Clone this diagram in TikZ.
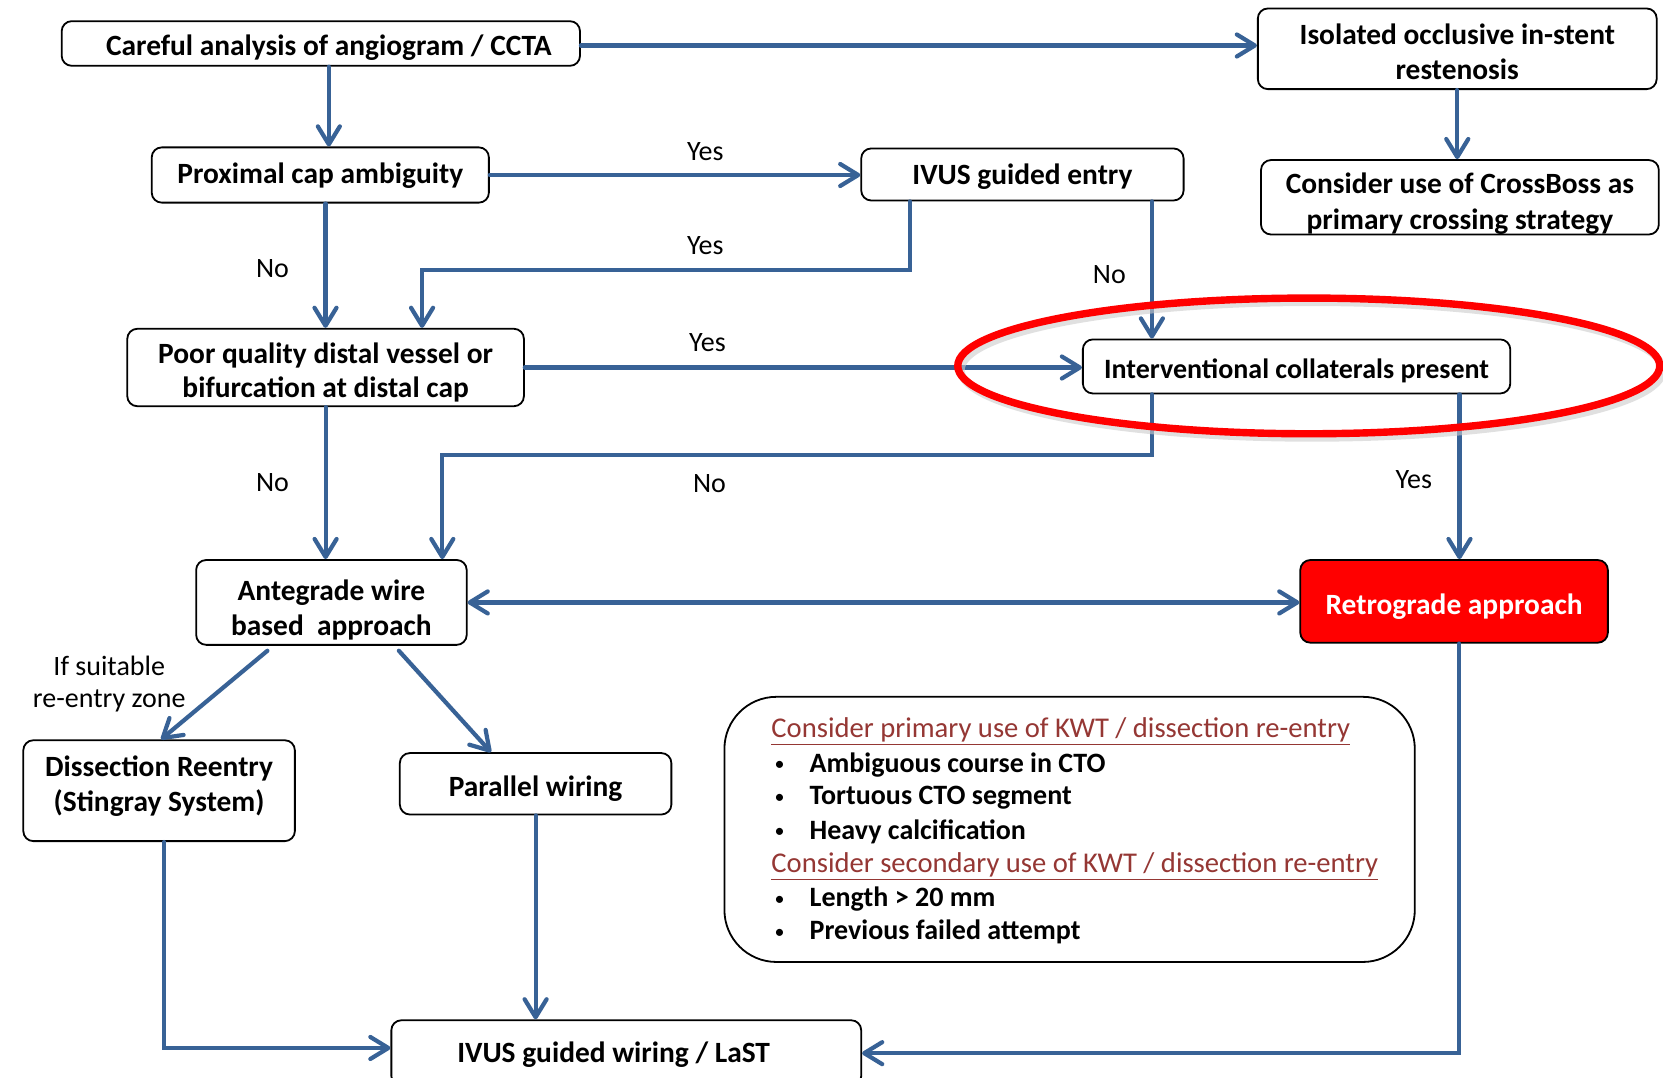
\documentclass[tikz,border=0pt]{standalone}
\usepackage{fontspec}
\setmainfont{Carlito}
\usetikzlibrary{arrows.meta}
\definecolor{connblue}{RGB}{56,98,150}
\definecolor{hdrred}{RGB}{149,55,52}
\definecolor{retrored}{RGB}{255,0,0}
\newcommand\txdown[2]{\raisebox{0pt}[\dimexpr\height+#1\relax]{#2}}
\newcommand\txup[2]{\raisebox{0pt}[\height][\dimexpr\depth+#1\relax]{#2}}
\newcommand\kbul{\makebox[17.5pt][l]{\raisebox{0.6pt}{\fontsize{10}{10}\selectfont\mdseries\textbullet}}}
\begin{document}
\begin{tikzpicture}[x=0.53pt,y=-0.53pt,
  fbox/.style={draw=black, line width=0.9pt, rounded corners=5pt, align=center, inner sep=0pt,
    font=\fontsize{14.7}{17.5}\selectfont\bfseries, fill=white},
  link/.style={draw=connblue, line width=2.1pt, line cap=round,
    -{Straight Barb[length=9pt,width=11pt,round]}},
  dlink/.style={draw=connblue, line width=2.1pt,
    {Straight Barb[length=9pt,width=11pt,round]}-{Straight Barb[length=9pt,width=11pt,round]}},
  lbl/.style={font=\fontsize{14}{16.5}\selectfont, align=center, inner sep=0pt},
  kwthead/.style={font=\fontsize{14.3}{16.5}\selectfont, text=hdrred, anchor=west, inner sep=0pt},
  kwtitem/.style={font=\fontsize{14}{16.5}\selectfont\bfseries, anchor=west, inner sep=0pt},
]
\clip (0,0) rectangle (1568,1016);
\fill[white] (0,0) rectangle (1568,1016);

% boxes
\node[fbox, minimum width=259pt, minimum height=22.3pt] (careful) at (302.5,41) {\txdown{4.2pt}{\hspace*{8pt}Careful analysis of angiogram / CCTA}};
\node[fbox, minimum width=199.3pt, minimum height=40.3pt] (isolated) at (1374,46) {\txdown{2.6pt}{Isolated occlusive in-stent}\\restenosis};
\node[fbox, minimum width=198.8pt, minimum height=36pt, font=\fontsize{14.7}{18}\selectfont\bfseries] (crossboss) at (1376.5,186) {\txdown{6.4pt}{Consider use of CrossBoss as}\\primary crossing strategy};
\node[fbox, minimum width=168.5pt, minimum height=27.6pt] (proximal) at (302,165) {\txdown{1pt}{Proximal cap ambiguity}};
\node[fbox, minimum width=161.1pt, minimum height=26pt] (ivusentry) at (964,164.5) {\txdown{2.1pt}{IVUS guided entry}};
\node[fbox, minimum width=198.2pt, minimum height=38.7pt, font=\fontsize{14.7}{17}\selectfont\bfseries] (poor) at (307,346.5) {\txdown{5.3pt}{Poor quality distal vessel or}\\bifurcation at distal cap};
\node[fbox, minimum width=213.6pt, minimum height=27pt, font=\fontsize{14}{17}\selectfont\bfseries] (interv) at (1222.5,345.5) {\txdown{4.2pt}{Interventional collaterals present}};
\node[fbox, minimum width=135.2pt, minimum height=42.4pt] (antegrade) at (312.5,568) {\txdown{8pt}{Antegrade wire}\\based\ \ approach};
\node[fbox, fill=retrored, text=white, minimum width=153.7pt, minimum height=41.3pt] (retro) at (1371,567) {\txdown{5.3pt}{Retrograde approach}};
\node[fbox, minimum width=135.7pt, minimum height=50.4pt] (dissect) at (150,745.5) {Dissection Reentry\\\txup{4.8pt}{(Stingray System)}};
\node[fbox, minimum width=135.7pt, minimum height=30.7pt] (parallel) at (505,739) {\txdown{5.3pt}{Parallel wiring}};
\node[fbox, minimum width=234.8pt, minimum height=32.9pt] (ivuswire) at (590.5,993) {\txdown{1pt}{IVUS guided wiring / LaST\hspace*{12.7pt}}};

% KWT box
\node[draw=black, line width=0.9pt, rounded corners=26pt, minimum width=345pt, minimum height=132.5pt, inner sep=0pt] (kwt) at (1008.5,782) {};
\node[kwthead] (k1) at (727,690) {\underline{Consider primary use of KWT / dissection re-entry}};
\node[kwtitem] (k2) at (730,721) {\kbul Ambiguous course in CTO};
\node[kwtitem] (k3) at (730,752) {\kbul Tortuous CTO segment};
\node[kwtitem] (k4) at (730,784) {\kbul Heavy calcification};
\node[kwthead] (k5) at (727,817) {\underline{Consider secondary use of KWT / dissection re-entry}};
\node[kwtitem] (k6) at (730,848) {\kbul Length > 20 mm};
\node[kwtitem] (k7) at (730,879) {\kbul Previous failed attempt};

% connector start coordinates
\coordinate (c1) at ([yshift=-1pt]careful.east);
\coordinate (c2) at ([xshift=4pt]careful.south);
\coordinate (c5) at ([xshift=-56.2pt]ivusentry.south);
\coordinate (c6) at ([xshift=64.7pt]ivusentry.south);
\coordinate (c7) at ([xshift=2.6pt]proximal.south);
\coordinate (c9) at ([xshift=-72.3pt]interv.south);
\coordinate (c11) at ([xshift=81.4pt]interv.south);
\coordinate (c13) at ([xshift=-32pt,yshift=-2.5pt]antegrade.south);
\coordinate (c14) at ([xshift=33.7pt,yshift=-2.5pt]antegrade.south);
\coordinate (t13) at ([xshift=1pt]dissect.north);
\coordinate (t14) at ([xshift=-22.3pt]parallel.north);
\coordinate (c15) at ([xshift=2.6pt]dissect.south);
\coordinate (t15) at ([yshift=2.6pt]ivuswire.west);
\coordinate (c17) at ([xshift=2.6pt]retro.south);

% connectors
\draw[link] (c1) -- (c1 -| isolated.west);
\draw[link] (c2) -- (c2 |- proximal.north);
\draw[link] (isolated.south) -- (isolated.south |- crossboss.north);
\draw[link] (proximal.east) -- (proximal.east -| ivusentry.west);
\draw[link] (c5) -- ++(0,65) -| ([xshift=48.2pt]poor.north);
\draw[link] (c6) -- (c6 |- interv.north);
\draw[link] (c7) -- (c7 |- poor.north);
\draw[link] (poor.east) -- (poor.east -| interv.west);
\draw[link] (c9) -- ++(0,57) -| ([xshift=55.4pt]antegrade.north);
\draw[link] (poor.south) -- (poor.south |- antegrade.north);
\draw[link] (c11) -- (c11 |- retro.north);
\draw[dlink] (antegrade.east) -- (antegrade.east -| retro.west);
\draw[link] (c13) -- (t13);
\draw[link] (c14) -- (t14);
\draw[link] (c15) |- (t15);
\draw[link] (parallel.south) -- (parallel.south |- ivuswire.north);
\draw[link] (c17) |- (ivuswire.east);

% labels
\node[lbl] (l1) at (665,143) {Yes};
\node[lbl] (l2) at (665,232) {Yes};
\node[lbl] (l3) at (1046,259) {No};
\node[lbl] (l4) at (257,253) {No};
\node[lbl] (l5) at (667,323) {Yes};
\node[lbl] (l6) at (669,456) {No};
\node[lbl] (l7) at (257,455) {No};
\node[lbl] (l8) at (1333,452) {Yes};
\node[lbl, font=\fontsize{14}{16.4}\selectfont] (l9) at (103,645) {If suitable\\re-entry zone};

% highlight ellipse
\draw[black!20, line width=3.7pt, opacity=0.6] (1237,349) ellipse [x radius=175.4pt, y radius=33.9pt];
\draw[retrored, line width=3.7pt] (1234,345) ellipse [x radius=175.4pt, y radius=33.9pt];
\end{tikzpicture}
\end{document}
